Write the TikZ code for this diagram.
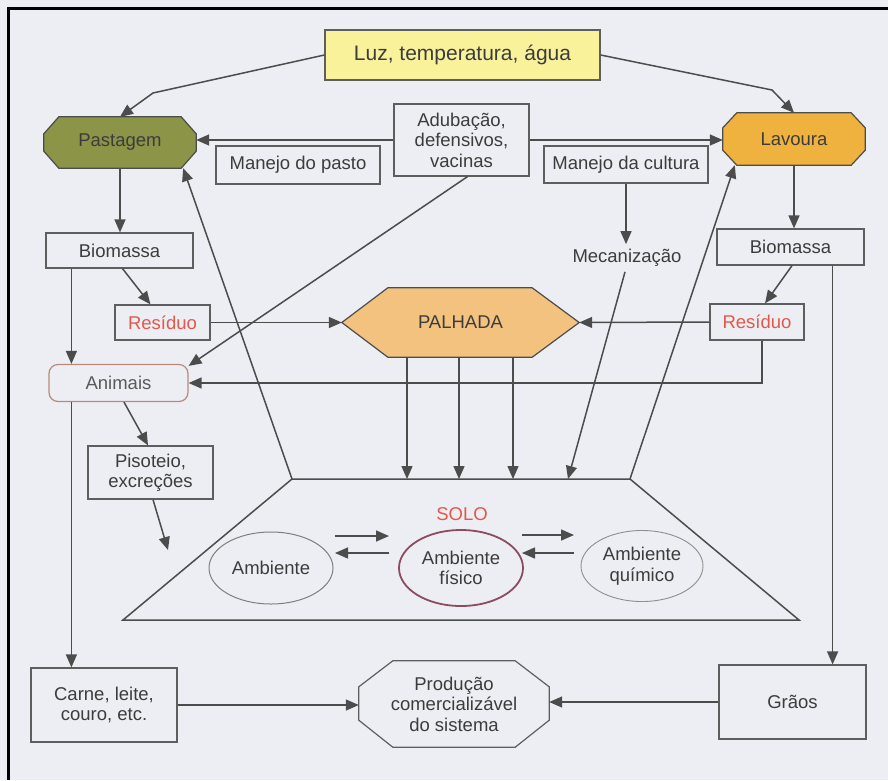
\documentclass[tikz,border=0pt]{standalone}
\usepackage{fontspec}
\setmainfont{Liberation Sans}
\usetikzlibrary{arrows.meta,calc,shapes.geometric,backgrounds}
\definecolor{bg}{HTML}{EDEEF3}
\definecolor{luzc}{HTML}{F9F29B}
\definecolor{pasc}{HTML}{8B9447}
\definecolor{lavc}{HTML}{EFB23E}
\definecolor{palc}{HTML}{F3C27F}
\definecolor{linec}{HTML}{4C4C4C}
\definecolor{boxc}{HTML}{5E5E5E}
\definecolor{txtc}{HTML}{3C3C3C}
\definecolor{redc}{HTML}{E2584A}
\definecolor{anic}{HTML}{B98A7C}
\definecolor{fisc}{HTML}{8A4C5E}
\begin{document}
\begin{tikzpicture}[x=1pt,y=-1pt,
  txt/.style={text=txtc, font=\fontsize{18.5}{20.5}\selectfont, align=center, inner sep=0pt},
  box/.style={txt, draw=boxc, line width=1.2pt},
  shapeline/.style={draw=linec, line width=1.2pt},
  ln/.style={draw=linec, line width=1.5pt},
  arr/.style={draw=linec, line width=1.5pt, -{Triangle[length=13pt,width=11pt]}}]
\useasboundingbox (0,0) rectangle (888,780);

% ---- nodes
\node[box, fill=luzc, minimum width=275pt, minimum height=50pt, font=\fontsize{21}{23}\selectfont] (luz) at (462.5,55) {Luz, temperatura, água};
\node[txt, minimum width=152pt, minimum height=51pt] (pas) at (120,142.5) {Pastagem};
\node[txt, minimum width=142pt, minimum height=52pt] (lav) at (794,139) {Lavoura};
\node[box, minimum width=164pt, minimum height=38pt] (mpasto) at (298,165) {Manejo do pasto};
\node[box, minimum width=135pt, minimum height=72pt] (adub) at (461.5,140) {Adubação,\\defensivos,\\vacinas};
\node[box, minimum width=164pt, minimum height=37pt] (mcult) at (626,164.5) {Manejo da cultura};
\node[box, minimum width=147pt, minimum height=35pt] (bioL) at (119.5,250.5) {Biomassa};
\node[box, minimum width=147pt, minimum height=36pt] (bioR) at (790.5,247) {Biomassa};
\node[txt, inner sep=5pt] (mec) at (627,258) {Mecanização};
\node[box, text=redc, minimum width=95pt, minimum height=35pt] (resL) at (162.5,322.5) {Resíduo};
\node[box, text=redc, minimum width=94pt, minimum height=36pt] (resR) at (757,322) {Resíduo};
\node[txt, minimum width=237pt, minimum height=69pt] (pal) at (460.5,322.5) {PALHADA};
\node[box, draw=anic, rounded corners=9pt, text=txtc!85, minimum width=139pt, minimum height=37pt] (ani) at (118.5,383) {Animais};
\node[box, minimum width=125pt, minimum height=53pt] (pis) at (150.5,472.5) {Pisoteio,\\excreções};
\node[txt, text=redc] (solo) at (462,514) {SOLO};
\node[box, draw=boxc!80, line width=1pt, ellipse, minimum width=124pt, minimum height=72pt] (ambL) at (271,568) {Ambiente};
\node[box, draw=fisc, line width=1.8pt, ellipse, minimum width=124pt, minimum height=76pt] (ambF) at (461,568) {Ambiente\\físico};
\node[box, draw=boxc!70, line width=0.9pt, ellipse, minimum width=122pt, minimum height=71pt] (ambQ) at (642,566) {Ambiente\\químico};
\node[box, minimum width=146pt, minimum height=74pt] (carne) at (104,705) {Carne, leite,\\couro, etc.};
\node[txt, minimum width=190pt, minimum height=86pt] (prod) at (454,704) {Produção\\comercializável\\do sistema};
\node[box, minimum width=147pt, minimum height=74pt] (graos) at (792.5,702) {Grãos};

% ---- background layer: page, frame, filled shapes
\begin{scope}[on background layer]
\fill[bg] (0,0) rectangle (888,780);
\draw[line width=3pt, black] (8,780) -- (8,8) -- (888,8);
\filldraw[shapeline, fill=pasc]
  ([xshift=15pt]pas.north west) -- ([xshift=-15pt]pas.north east) -- ([yshift=-17pt]pas.north east) --
  ([yshift=17pt]pas.south east) -- ([xshift=-15pt]pas.south east) -- ([xshift=15pt]pas.south west) --
  ([yshift=17pt]pas.south west) -- ([yshift=-17pt]pas.north west) -- cycle;
\filldraw[shapeline, fill=lavc]
  ([xshift=14pt]lav.north west) -- ([xshift=-14pt]lav.north east) -- ([yshift=-15pt]lav.north east) --
  ([yshift=15pt]lav.south east) -- ([xshift=-14pt]lav.south east) -- ([xshift=14pt]lav.south west) --
  ([yshift=15pt]lav.south west) -- ([yshift=-15pt]lav.north west) -- cycle;
\filldraw[shapeline, fill=palc]
  (pal.west) -- ([xshift=46pt]pal.north west) -- ([xshift=-47pt]pal.north east) -- (pal.east) --
  ([xshift=-47pt]pal.south east) -- ([xshift=46pt]pal.south west) -- cycle;
\draw[shapeline, draw=boxc]
  ([xshift=34pt]prod.north west) -- ([xshift=-34pt]prod.north east) -- ([yshift=-26pt]prod.north east) --
  ([yshift=27pt]prod.south east) -- ([xshift=-34pt]prod.south east) -- ([xshift=34pt]prod.south west) --
  ([yshift=27pt]prod.south west) -- ([yshift=-26pt]prod.north west) -- cycle;
\end{scope}

% ---- SOLO trapezoid
\coordinate (stl) at (292,479);
\coordinate (str) at (630,479);
\coordinate (sbr) at (799,620);
\coordinate (sbl) at (123,620);
\draw[ln] (stl) -- (str) -- (sbr) -- (sbl) -- cycle;

% ---- helper coordinates
\coordinate (b1) at (153,93);
\coordinate (b2) at (772,90);
\coordinate (sp4) at (568,479);
\coordinate (pisEnd) at (168,550);
\path ([xshift=-32pt]bioR.south east) coordinate (nx);
\path ([xshift=26pt]bioL.south west) coordinate (lx);
\path ([xshift=23pt]ani.south west) coordinate (ax);
\path ([xshift=-53.5pt]pal.south) coordinate (p1);
\path ([xshift=-1.5pt]pal.south) coordinate (p2);
\path ([xshift=52.5pt]pal.south) coordinate (p3);

% ---- connectors
\draw[arr] (luz.west) -- (b1) -- (pas.north);
\draw[arr] (luz.east) -- (b2) -- (lav.north);
\draw[arr] (adub.west) -- (adub.west -| pas.east);
\draw[arr] (adub.east) -- (adub.east -| lav.west);
\draw[arr] ([xshift=6pt]adub.south) -- ([yshift=-2pt]ani.north east);
\draw[arr] (pas.south) -- (pas.south |- bioL.north);
\draw[arr] ([xshift=3pt]bioL.south) -- ([xshift=-12pt]resL.north);
\draw[arr] (lx) -- (lx |- ani.north);
\draw[arr] (resL.east) -- (pal.west);
\draw[arr] (resR.west) -- (pal.east);
\draw[arr] ([xshift=5pt]resR.south) |- (ani.east);
\draw[arr] ([xshift=1.5pt]bioR.south) -- ([xshift=8pt]resR.north);
\draw[arr] (lav.south) -- (lav.south |- bioR.north);
\draw[arr] (nx) -- (nx |- graos.north);
\draw[arr] (mcult.south) -- (mcult.south |- mec.north);
\draw[arr] ([xshift=-2pt]mec.south) -- (sp4);
\draw[arr] (str) -- ([xshift=12pt]lav.south west);
\draw[arr] (stl) -- ([xshift=-13pt]pas.south east);
\draw[arr] (p1) -- (p1 |- stl);
\draw[arr] (p2) -- (p2 |- stl);
\draw[arr] (p3) -- (p3 |- stl);
\draw[arr] ([xshift=5.5pt]ani.south) -- ([xshift=-2.5pt]pis.north);
\draw[arr] ([xshift=2.5pt]pis.south) -- (pisEnd);
\draw[arr] (ax) -- (ax |- carne.north);
\draw[arr] (carne.east) -- (carne.east -| prod.west);
\draw[arr] (graos.west) -- (graos.west -| prod.east);

% ---- double arrows between soil environments
\coordinate (d1) at (335,536); \coordinate (d2) at (389,536);
\coordinate (d3) at (389,553); \coordinate (d4) at (335,553);
\coordinate (d5) at (522,535); \coordinate (d6) at (574,535);
\coordinate (d7) at (574,553); \coordinate (d8) at (522,553);
\draw[arr] (d1) -- (d2);
\draw[arr] (d3) -- (d4);
\draw[arr] (d5) -- (d6);
\draw[arr] (d7) -- (d8);
\end{tikzpicture}
\end{document}
